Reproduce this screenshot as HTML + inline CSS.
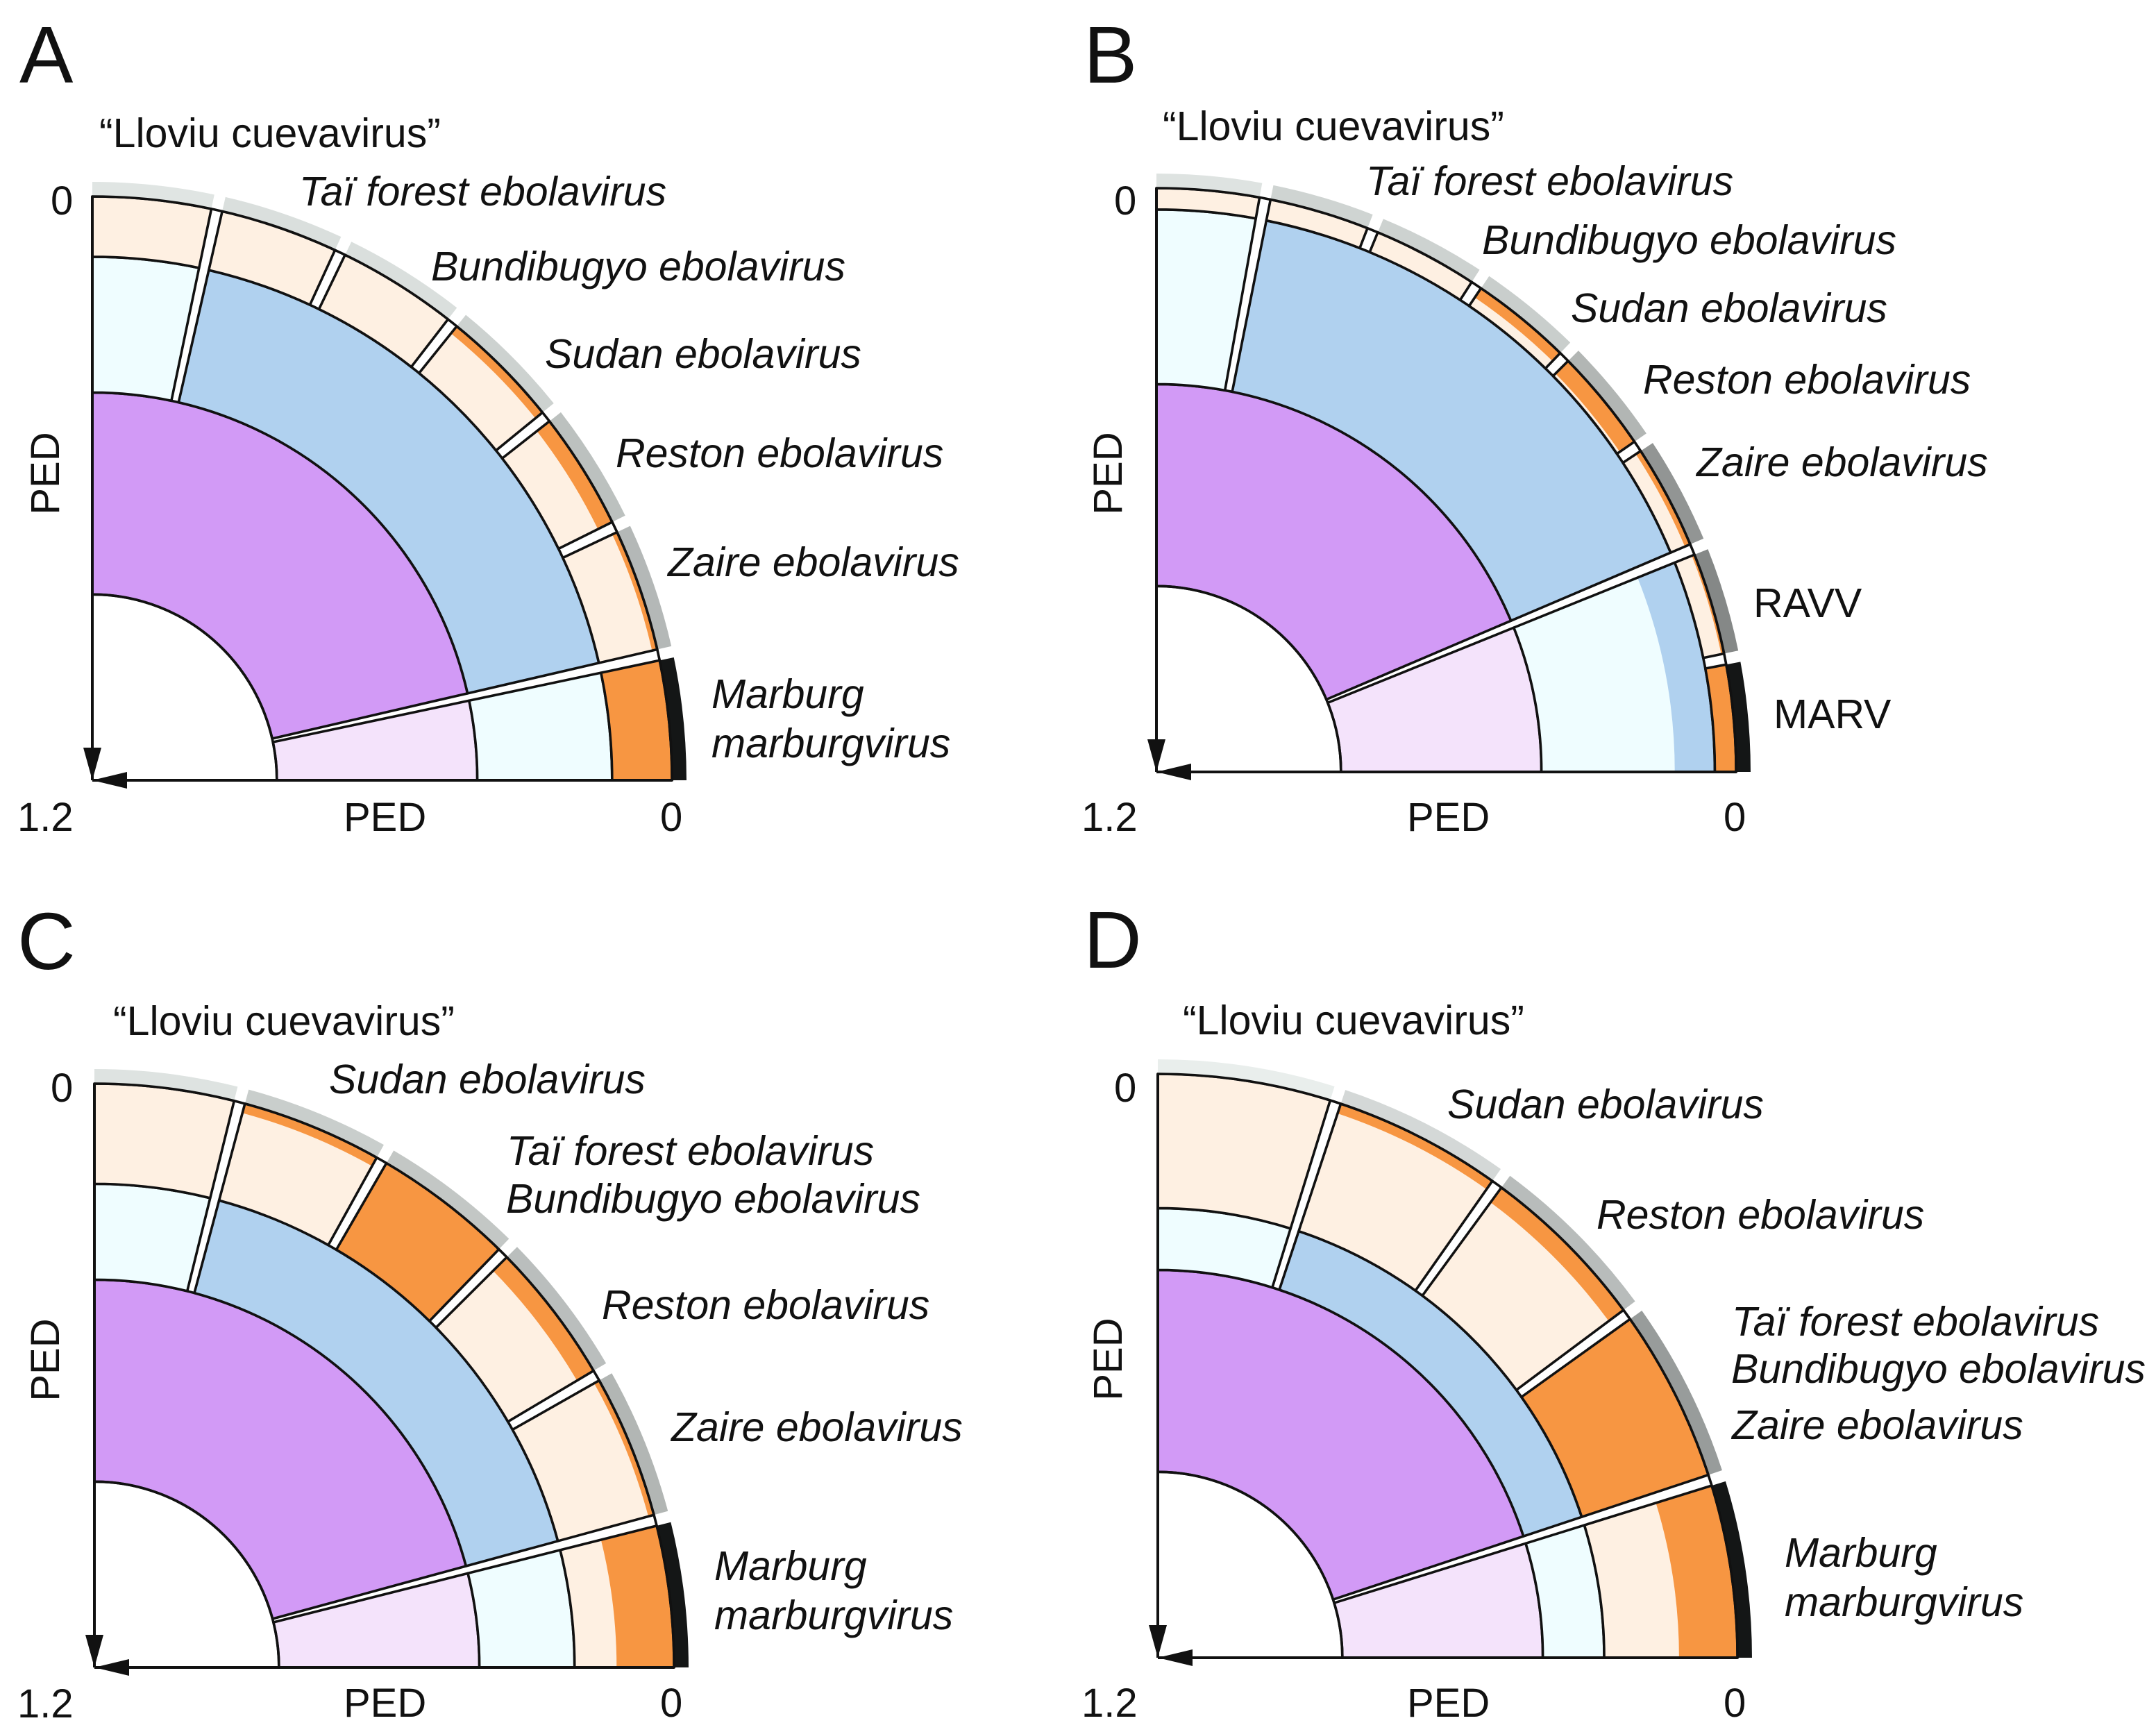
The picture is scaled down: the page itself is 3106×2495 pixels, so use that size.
<!DOCTYPE html>
<html lang="en">
<head>
<meta charset="utf-8">
<title>PED sector charts of filoviruses</title>
<style>
html,body{margin:0;padding:0;background:#fff;}
svg{display:block;}
text{font-family:"Liberation Sans",Arial,sans-serif;fill:#111;}
.lab{font-size:59px;font-style:italic;}
.rom{font-size:59px;}
.tick{font-size:58px;}
.letter{font-size:116px;}
</style>
</head>
<body>
<svg id="figure" xmlns="http://www.w3.org/2000/svg" width="3106" height="2495" viewBox="0 0 3106 2495">
<rect x="0" y="0" width="3106" height="2495" fill="#fff"/>

<g id="panel-a">
  <g id="marks-a"></g>
  <text class="letter" x="28" y="119">A</text>
  <text class="rom" x="143" y="212">“Lloviu cuevavirus”</text>
  <text class="lab" x="431" y="296">Taï forest ebolavirus</text>
  <text class="lab" x="621" y="404">Bundibugyo ebolavirus</text>
  <text class="lab" x="785" y="530">Sudan ebolavirus</text>
  <text class="lab" x="887" y="673">Reston ebolavirus</text>
  <text class="lab" x="962" y="830">Zaire ebolavirus</text>
  <text class="lab" x="1025" y="1020">Marburg</text>
  <text class="lab" x="1025" y="1091">marburgvirus</text>
  <text class="tick" x="73" y="309">0</text>
  <text class="tick" transform="translate(85 682) rotate(-90)" text-anchor="middle">PED</text>
  <text class="tick" x="25" y="1197">1.2</text>
  <text class="tick" x="495" y="1197">PED</text>
  <text class="tick" x="951" y="1197">0</text>
</g>

<g id="panel-b">
  <g id="marks-b"></g>
  <text class="letter" x="1561" y="119">B</text>
  <text class="rom" x="1675" y="202">“Lloviu cuevavirus”</text>
  <text class="lab" x="1968" y="281">Taï forest ebolavirus</text>
  <text class="lab" x="2135" y="366">Bundibugyo ebolavirus</text>
  <text class="lab" x="2263" y="464">Sudan ebolavirus</text>
  <text class="lab" x="2367" y="567">Reston ebolavirus</text>
  <text class="lab" x="2444" y="686">Zaire ebolavirus</text>
  <text class="rom" x="2526" y="889">RAVV</text>
  <text class="rom" x="2555" y="1049">MARV</text>
  <text class="tick" x="1605" y="309">0</text>
  <text class="tick" transform="translate(1616 682) rotate(-90)" text-anchor="middle">PED</text>
  <text class="tick" x="1558" y="1197">1.2</text>
  <text class="tick" x="2027" y="1197">PED</text>
  <text class="tick" x="2483" y="1197">0</text>
</g>

<g id="panel-c">
  <g id="marks-c"></g>
  <text class="letter" x="25" y="1396">C</text>
  <text class="rom" x="163" y="1491">“Lloviu cuevavirus”</text>
  <text class="lab" x="474" y="1575">Sudan ebolavirus</text>
  <text class="lab" x="730" y="1678">Taï forest ebolavirus</text>
  <text class="lab" x="729" y="1747">Bundibugyo ebolavirus</text>
  <text class="lab" x="867" y="1900">Reston ebolavirus</text>
  <text class="lab" x="967" y="2076">Zaire ebolavirus</text>
  <text class="lab" x="1029" y="2276">Marburg</text>
  <text class="lab" x="1029" y="2347">marburgvirus</text>
  <text class="tick" x="73" y="1587">0</text>
  <text class="tick" transform="translate(85 1959) rotate(-90)" text-anchor="middle">PED</text>
  <text class="tick" x="25" y="2474">1.2</text>
  <text class="tick" x="495" y="2473">PED</text>
  <text class="tick" x="951" y="2473">0</text>
</g>

<g id="panel-d">
  <g id="marks-d"></g>
  <text class="letter" x="1561" y="1394">D</text>
  <text class="rom" x="1704" y="1490">“Lloviu cuevavirus”</text>
  <text class="lab" x="2085" y="1611">Sudan ebolavirus</text>
  <text class="lab" x="2300" y="1770">Reston ebolavirus</text>
  <text class="lab" x="2495" y="1924">Taï forest ebolavirus</text>
  <text class="lab" x="2494" y="1992">Bundibugyo ebolavirus</text>
  <text class="lab" x="2495" y="2073">Zaire ebolavirus</text>
  <text class="lab" x="2571" y="2257">Marburg</text>
  <text class="lab" x="2571" y="2328">marburgvirus</text>
  <text class="tick" x="1605" y="1587">0</text>
  <text class="tick" transform="translate(1616 1958) rotate(-90)" text-anchor="middle">PED</text>
  <text class="tick" x="1558" y="2473">1.2</text>
  <text class="tick" x="2027" y="2473">PED</text>
  <text class="tick" x="2483" y="2473">0</text>
</g>
</svg>

<script>
// ---- Data: PED depth of each split ----
// family split (white core edge) and genus split per panel A, B, C, D
const familyPed = [0.818, 0.818, 0.818, 0.818];
const genusPed = [0.403, 0.403, 0.403, 0.403];
// species split (inner edge of the outer ring) per panel
const speciesPed = [0.124, 0.044, 0.206, 0.276];
// depth at which the darker blue starts in the Marburg genus (0 = no blue)
const marburgBluePed = [0, 0.127, 0, 0];

// Outer-ring leaves, ordered clockwise from the vertical axis
const leavesA = ['Lloviu', 'Tai Forest', 'Bundibugyo', 'Sudan', 'Reston', 'Zaire', 'Marburg'];
const leavesB = ['Lloviu', 'Tai Forest', 'Bundibugyo', 'Sudan', 'Reston', 'Zaire', 'RAVV', 'MARV'];
const leavesC = ['Lloviu', 'Sudan', 'Tai Forest Bundibugyo', 'Reston', 'Zaire', 'Marburg'];
const leavesD = ['Lloviu', 'Sudan', 'Reston', 'Tai Forest Bundibugyo Zaire', 'Marburg'];

// Sector split angles, degrees clockwise from the vertical axis
const splitsA = [12.4, 25.3, 38.4, 51.5, 64.3, 77.6];
const splitsB = [10.8, 21.9, 33.5, 44.7, 56.1, 67.6, 78.85];
const splitsC = [14.5, 29.7, 44.8, 60, 75.4];
const splitsD = [17.85, 35.8, 54, 72.3];

// Number of leaves that precede the Marburg genus
const marburgStart = [6, 6, 5, 4];

// Orange depth (PED) per leaf
const orangeA = [0, 0, 0, 0.019, 0.033, 0.011, 0.124];
const orangeB = [0, 0, 0, 0.023, 0.037, 0.012, 0.006, 0.044];
const orangeC = [0, 0.02, 0.206, 0.04, 0.012, 0.119];
const orangeD = [0, 0.021, 0.038, 0.276, 0.121];

// Grey outer band intensity (0 light to 1 black) per leaf
const shadeA = [0.04, 0.07, 0.07, 0.13, 0.21, 0.25, 1];
const shadeB = [0.05, 0.12, 0.13, 0.15, 0.26, 0.41, 0.47, 1];
const shadeC = [0.05, 0.15, 0.18, 0.22, 0.26, 1];
const shadeD = [0, 0.1, 0.23, 0.38, 1];

// ---- Drawing ----
const SVGNS = 'http://www.w3.org/2000/svg';
const MAX_PED = 1.2;
const RADIUS = 841;
const X_SQUASH = 0.993;
const BAND = 20;
const HALF_GAP = 0.55;
const LINE = '#111';
const COLORS = {peach:'#fef0e2', cyan:'#effdff', blue:'#b0d1ef', purple:'#d29af6', pale:'#f4e3fb', orange:'#f79642'};

function radiusScale(ped){ return RADIUS * (1 - ped / MAX_PED); }
function angleScale(index, splits){
  if (index <= 0) return 0;
  if (index > splits.length) return 90;
  return splits[index - 1];
}
function pt(cx, cy, r, deg){
  const t = deg * Math.PI / 180;
  return (cx + r * X_SQUASH * Math.sin(t)).toFixed(2) + ' ' + (cy - r * Math.cos(t)).toFixed(2);
}
function sectorPath(cx, cy, r0, r1, a0, a1){
  return 'M' + pt(cx, cy, r0, a0) + 'L' + pt(cx, cy, r1, a0) +
    'A' + (r1 * X_SQUASH) + ' ' + r1 + ' 0 0 1 ' + pt(cx, cy, r1, a1) +
    'L' + pt(cx, cy, r0, a1) +
    'A' + (r0 * X_SQUASH) + ' ' + r0 + ' 0 0 0 ' + pt(cx, cy, r0, a0) + 'Z';
}
function shadeColor(v){
  const c0 = [233, 238, 236], c1 = [20, 22, 22];
  const m = c0.map(function(c, i){ return Math.round(c + (c1[i] - c) * v); });
  return 'rgb(' + m.join(',') + ')';
}
function addSector(group, cx, cy, r0, r1, a0, a1, fill, stroked, name){
  const el = document.createElementNS(SVGNS, 'path');
  el.setAttribute('d', sectorPath(cx, cy, r0, r1, a0, a1));
  el.setAttribute('fill', fill);
  if (stroked) {
    el.setAttribute('stroke', LINE);
    el.setAttribute('stroke-width', '3.6');
    el.setAttribute('stroke-linejoin', 'round');
  }
  
  
  group.appendChild(el);
  return el;
}
function addAxis(group, cx, cy, x2, y2, head, name){
  const line = document.createElementNS(SVGNS, 'line');
  line.setAttribute('x1', cx);
  line.setAttribute('y1', cy);
  line.setAttribute('x2', x2);
  line.setAttribute('y2', y2);
  line.setAttribute('stroke', LINE);
  line.setAttribute('stroke-width', '4');
  
  
  group.appendChild(line);
  const arrow = document.createElementNS(SVGNS, 'polygon');
  arrow.setAttribute('points', head);
  arrow.setAttribute('fill', LINE);
  
  
  group.appendChild(arrow);
}
function drawPanel(groupId, idx, cx, cy, leaves, splits, orange, shade){
  const g = document.getElementById(groupId);
  const n = leaves.length;
  const split = angleScale(marburgStart[idx], splits);
  const first = angleScale(1, splits);
  const rFamily = radiusScale(familyPed[idx]);
  const rGenus = radiusScale(genusPed[idx]);
  const rSpecies = radiusScale(speciesPed[idx]);
  const rOuter = radiusScale(0);

  // inner rings
  addSector(g, cx, cy, rFamily, rGenus, 0, split - HALF_GAP, COLORS.purple, true, 'filovirus-genus-ring');
  addSector(g, cx, cy, rFamily, rGenus, split + HALF_GAP, 90, COLORS.pale, true, 'marburg-genus-ring');

  // middle rings
  addSector(g, cx, cy, rGenus, rSpecies, 0, first - HALF_GAP, COLORS.cyan, true, 'cuevavirus-species-ring');
  addSector(g, cx, cy, rGenus, rSpecies, first + HALF_GAP, split - HALF_GAP, COLORS.blue, true, 'ebolavirus-species-ring');
  addSector(g, cx, cy, rGenus, rSpecies, split + HALF_GAP, 90, COLORS.cyan, false, 'marburg-species-ring');
  if (marburgBluePed[idx] > 0) {
    addSector(g, cx, cy, radiusScale(marburgBluePed[idx]), rSpecies, split + HALF_GAP, 90, COLORS.blue, false, 'marburg-blue-ring');
  }
  addSector(g, cx, cy, rGenus, rSpecies, split + HALF_GAP, 90, 'none', true, 'marburg-species-outline');

  // outer leaves
  leaves.forEach(function(leaf, i){
    const a0 = i === 0 ? 0 : angleScale(i, splits) + HALF_GAP;
    const a1 = i === n - 1 ? 90 : angleScale(i + 1, splits) - HALF_GAP;
    addSector(g, cx, cy, rSpecies, rOuter, a0, a1, COLORS.peach, false, 'leaf-sector');
    if (orange[i] > 0) {
      addSector(g, cx, cy, radiusScale(orange[i]), rOuter, a0, a1, COLORS.orange, false, 'leaf-orange-strip');
    }
    addSector(g, cx, cy, rSpecies, rOuter, a0, a1, 'none', true, 'leaf-outline');
    // outer band
    addSector(g, cx, cy, rOuter + 1, rOuter + 1 + BAND, a0, a1, shadeColor(shade[i]), false, 'leaf-grey-band');
  });

  // continuous outer arc and core arc
  addSector(g, cx, cy, rOuter, rOuter + 0.01, 0, 90, 'none', true, 'outer-arc');
  addSector(g, cx, cy, rFamily, rFamily + 0.01, 0, 90, 'none', true, 'core-arc');

  // axes
  addAxis(g, cx, cy, cx, cy - RADIUS,
    cx + ',' + cy + ' ' + (cx - 13) + ',' + (cy - 47) + ' ' + (cx + 13) + ',' + (cy - 47), 'y-axis-line');
  addAxis(g, cx, cy, cx + RADIUS * X_SQUASH, cy,
    cx + ',' + cy + ' ' + (cx + 50) + ',' + (cy - 12) + ' ' + (cx + 50) + ',' + (cy + 12), 'x-axis-line');
}

drawPanel('marks-a', 0, 133, 1124, leavesA, splitsA, orangeA, shadeA);
drawPanel('marks-b', 1, 1666, 1112, leavesB, splitsB, orangeB, shadeB);
drawPanel('marks-c', 2, 136, 2402, leavesC, splitsC, orangeC, shadeC);
drawPanel('marks-d', 3, 1668, 2388, leavesD, splitsD, orangeD, shadeD);
</script>
</body>
</html>
